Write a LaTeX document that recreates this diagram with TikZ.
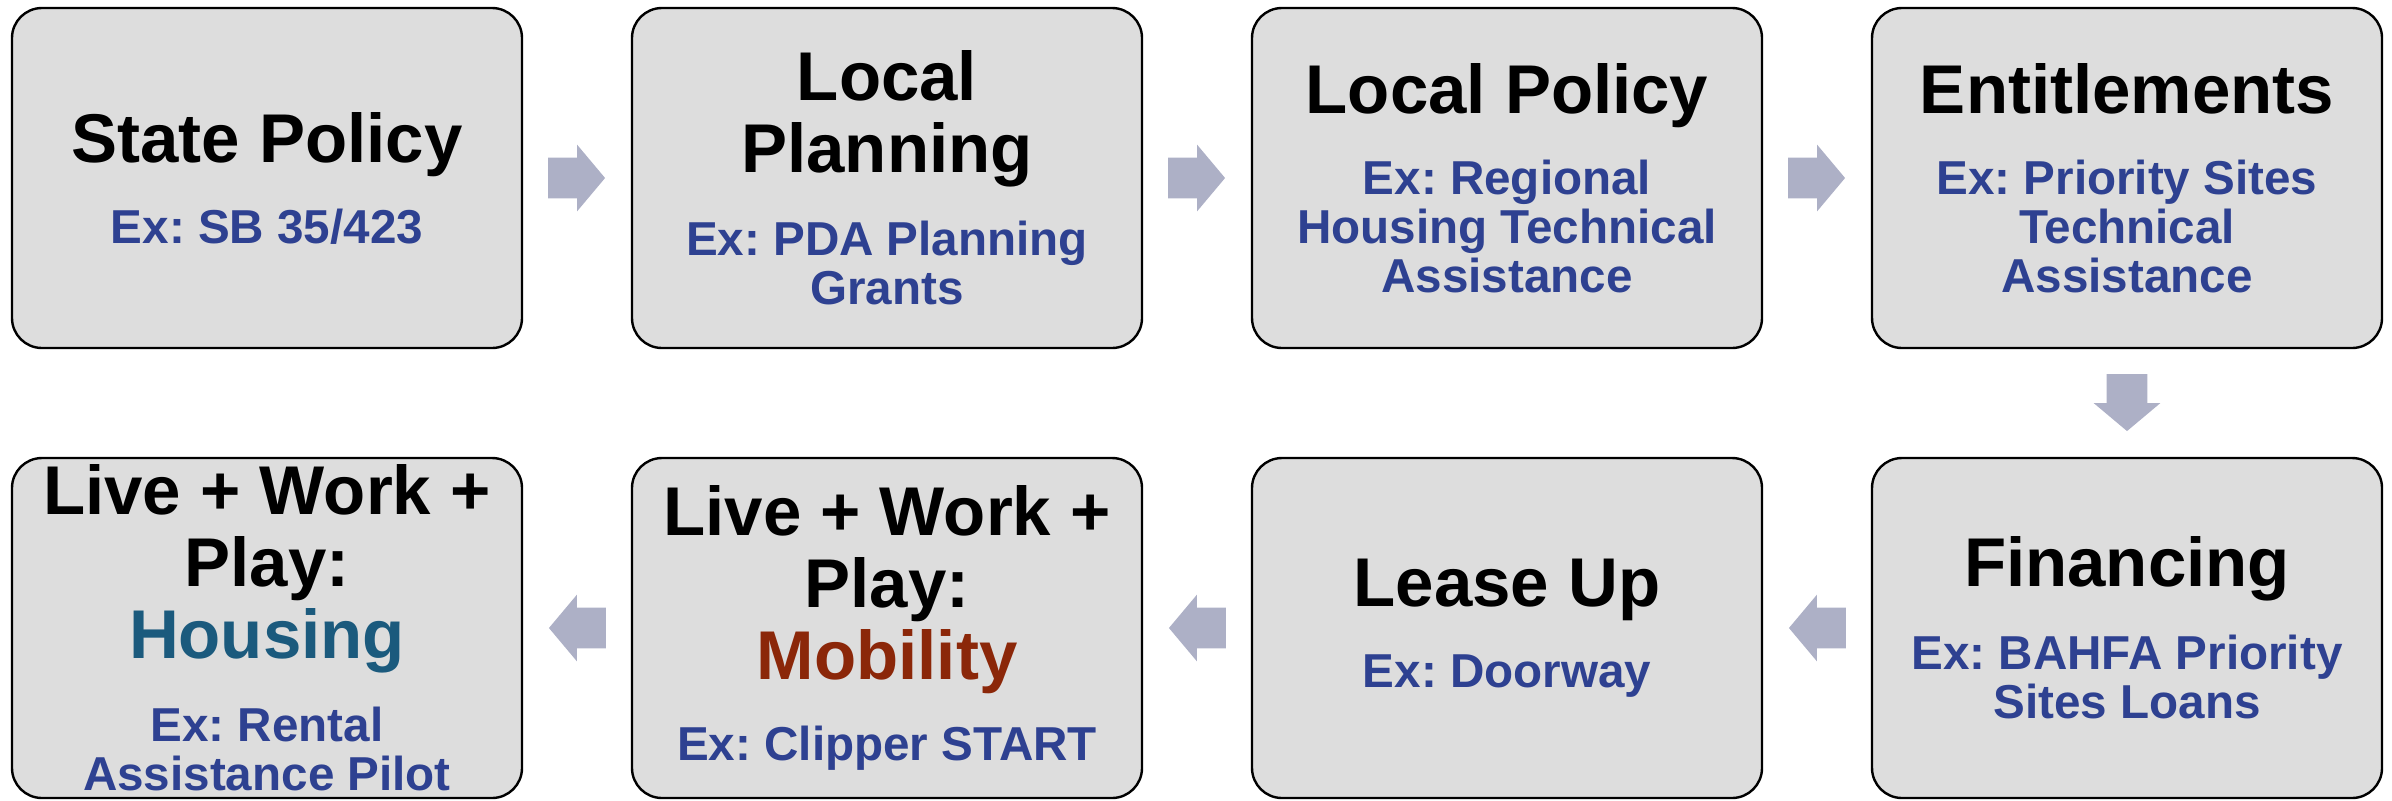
\documentclass[tikz,border=0pt]{standalone}
\usepackage{fontspec}
\setmainfont{Liberation Sans}
\usetikzlibrary{shapes.arrows,calc}
\definecolor{boxgray}{RGB}{221,221,221}
\definecolor{arrowgray}{RGB}{173,176,198}
\definecolor{exblue}{RGB}{46,65,145}
\definecolor{housingteal}{RGB}{27,90,125}
\definecolor{mobilityred}{RGB}{139,39,9}
\newcommand{\stagetitle}[1]{{\fontsize{34.5}{36}\selectfont #1\par}}
\newcommand{\stageex}[1]{\vspace{16pt}{\color{exblue}\fontsize{23.8}{24.5}\selectfont #1\par}}
\frenchspacing
\begin{document}
\begin{tikzpicture}[x=0.5pt, y=-0.5pt, font=\bfseries]
	\tikzset{stage/.style={draw, line width=1.2pt, fill=boxgray, rounded corners=15pt, inner sep=0pt,
			minimum width=255pt, minimum height=170pt, text width=245pt, align=flush center},
		flow/.style={single arrow, fill=arrowgray, draw=none, inner xsep=0pt, inner ysep=10pt,
			minimum height=28.5pt, single arrow head extend=6.5pt, single arrow tip angle=100}}
	\useasboundingbox (0,0) rectangle (2392,800);
	% top row
	\node[stage] (state) at (267,178) {\stagetitle{State Policy}\stageex{Ex: SB 35/423}};
	\node[stage] (planning) at (887,178) {\stagetitle{Local\\Planning}\stageex{Ex: PDA Planning\\Grants}};
	\node[stage] (localpol) at (1507,178) {\stagetitle{Local Policy}\stageex{Ex: Regional\\Housing Technical\\Assistance}};
	\node[stage] (entitle) at (2127,178) {\stagetitle{Entitlements}\stageex{Ex: Priority Sites\\Technical\\Assistance}};
	% bottom row
	\node[stage] (finance) at (2127,628) {\stagetitle{Financing}\stageex{Ex: BAHFA Priority\\Sites Loans}};
	\node[stage] (lease) at (1507,628) {\stagetitle{Lease Up}\stageex{Ex: Doorway}};
	\node[stage] (mobility) at (887,628) {\stagetitle{Live + Work +\\Play:\\\textcolor{mobilityred}{Mobility}}\stageex{Ex: Clipper START}};
	\node[stage] (housing) at (267,628) {\stagetitle{Live + Work +\\Play:\\\textcolor{housingteal}{Housing}}\stageex{Ex: Rental\\Assistance Pilot}};
	% arrows
	\node[flow] (a1) at ($(state.east)!0.5!(planning.west)+(-9,0)$) {};
	\node[flow] (a2) at ($(planning.east)!0.5!(localpol.west)+(-9,0)$) {};
	\node[flow] (a3) at ($(localpol.east)!0.5!(entitle.west)+(-9,0)$) {};
	\node[flow, rotate=-90] (a4) at ($(entitle.south)!0.5!(finance.north)+(0,-9)$) {};
	\node[flow, rotate=180] (a5) at ($(finance.west)!0.5!(lease.east)+(9,0)$) {};
	\node[flow, rotate=180] (a6) at ($(lease.west)!0.5!(mobility.east)+(9,0)$) {};
	\node[flow, rotate=180] (a7) at ($(mobility.west)!0.5!(housing.east)+(9,0)$) {};
\end{tikzpicture}
\end{document}
